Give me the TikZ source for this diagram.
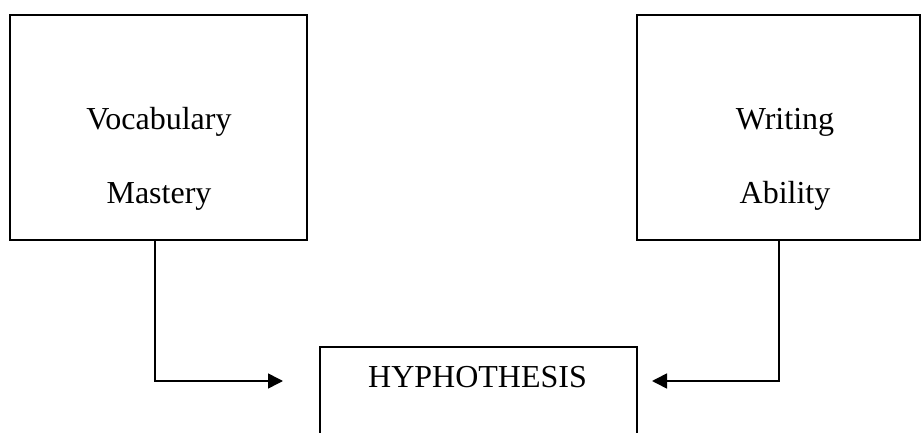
\documentclass[tikz,border=0pt]{standalone}
\usepackage{fontspec}
\setmainfont{Liberation Serif}
\usetikzlibrary{arrows.meta}
\begin{document}
\begin{tikzpicture}[x=1pt,y=1pt,
  varbox/.style={draw, line width=1.9pt, rectangle, inner sep=0pt},
  boxtext/.style={anchor=base, inner sep=0pt, font=\fontsize{32}{37}\selectfont},
  flow/.style={line width=1.6pt, -{Triangle[length=15pt,width=15pt]}}]
  \clip (0,0) rectangle (922,-433);
  % variable boxes
  \node[varbox, minimum width=297pt, minimum height=225pt] (vm) at (158.5,-127.5) {};
  \node[varbox, minimum width=283pt, minimum height=225pt] (wa) at (778.5,-127.5) {};
  \node[boxtext] (vm1) at (159,-130) {Vocabulary};
  \node[boxtext] (vm2) at (159,-204) {Mastery};
  \node[boxtext] (wa1) at (785,-130) {Writing};
  \node[boxtext] (wa2) at (785,-204) {Ability};
  % hypothesis box, running off the lower edge
  \node[varbox, minimum width=317pt, minimum height=140pt] (hyp) at (478.5,-417) {};
  \node[boxtext] (hyptext) at (477.5,-387) {HYPHOTHESIS};
  % arrow ends
  \coordinate (lin) at (283,-381);
  \coordinate (rin) at (652,-381);
  \draw[flow] ([xshift=-3.5pt]vm.south) |- (lin);
  \draw[flow] ([xshift=0.5pt]wa.south) |- (rin);
\end{tikzpicture}
\end{document}
